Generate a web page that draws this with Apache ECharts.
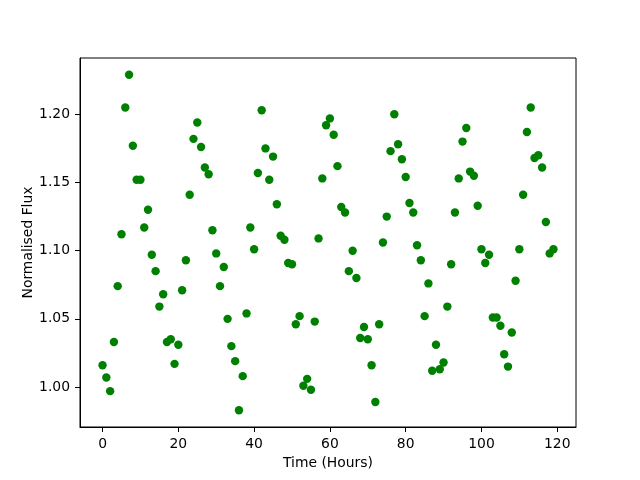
<!DOCTYPE html>
<html>
<head>
<meta charset="utf-8">
<script src="https://cdn.jsdelivr.net/npm/echarts@6/dist/echarts.min.js"></script>
<style>
  html, body { margin: 0; padding: 0; background: #fff; }
  #main { width: 640px; height: 480px; }
</style>
</head>
<body>
<div id="main"></div>
<script>
// time of each observation (hours)
const hours = [
  0, 1, 2, 3, 4, 5, 6, 7, 8, 9, 10, 11, 12, 13, 14, 15, 16, 17, 18, 19,
  20, 21, 22, 23, 24, 25, 26, 27, 28, 29, 30, 31, 32, 33, 34, 35, 36, 37, 38, 39,
  40, 41, 42, 43, 44, 45, 46, 47, 48, 49, 50, 51, 52, 53, 54, 55, 56, 57, 58, 59,
  60, 61, 62, 63, 64, 65, 66, 67, 68, 69, 70, 71, 72, 73, 74, 75, 76, 77, 78, 79,
  80, 81, 82, 83, 84, 85, 86, 87, 88, 89, 90, 91, 92, 93, 94, 95, 96, 97, 98, 99,
  100, 101, 102, 103, 104, 105, 106, 107, 108, 109, 110, 111, 112, 113, 114, 115, 116, 117, 118, 119
];

// normalised flux
const flux = [
  1.016, 1.007, 0.997, 1.033, 1.074, 1.112, 1.205, 1.229, 1.177, 1.152,
  1.152, 1.117, 1.130, 1.097, 1.085, 1.059, 1.068, 1.033, 1.035, 1.017,
  1.031, 1.071, 1.093, 1.141, 1.182, 1.194, 1.176, 1.161, 1.156, 1.115,
  1.098, 1.074, 1.088, 1.050, 1.030, 1.019, 0.983, 1.008, 1.054, 1.117,
  1.101, 1.157, 1.203, 1.175, 1.152, 1.169, 1.134, 1.111, 1.108, 1.091,
  1.090, 1.046, 1.052, 1.001, 1.006, 0.998, 1.048, 1.109, 1.153, 1.192,
  1.197, 1.185, 1.162, 1.132, 1.128, 1.085, 1.100, 1.080, 1.036, 1.044,
  1.035, 1.016, 0.989, 1.046, 1.106, 1.125, 1.173, 1.200, 1.178, 1.167,
  1.154, 1.135, 1.128, 1.104, 1.093, 1.052, 1.076, 1.012, 1.031, 1.013,
  1.018, 1.059, 1.090, 1.128, 1.153, 1.180, 1.190, 1.158, 1.155, 1.133,
  1.101, 1.091, 1.097, 1.051, 1.051, 1.045, 1.024, 1.015, 1.040, 1.078,
  1.101, 1.141, 1.187, 1.205, 1.168, 1.170, 1.161, 1.121, 1.098, 1.101
];

const xTicks = [0, 20, 40, 60, 80, 100, 120];
const yTicks = [1.00, 1.05, 1.10, 1.15, 1.20];

const font = 'DejaVu Sans';
const chart = echarts.init(document.getElementById('main'), null, { renderer: 'canvas' });

const option = {
  animation: false,
  backgroundColor: '#fff',
  textStyle: { fontFamily: font },
  grid: {
    left: 80, right: 64, top: 58, bottom: 53,
    show: true, borderColor: '#000', borderWidth: 1, backgroundColor: '#fff'
  },
  xAxis: {
    type: 'value',
    min: -5.95, max: 124.95,
    name: 'Time (Hours)',
    nameLocation: 'middle',
    nameGap: 29,
    nameMoveOverlap: false,
    nameTextStyle: { fontFamily: font, fontSize: 13.9, color: '#000' },
    splitLine: { show: false },
    axisLine: { show: true, onZero: false, lineStyle: { color: '#000', width: 1 } },
    axisTick: { show: true, length: 5, customValues: xTicks, lineStyle: { color: '#000' } },
    axisLabel: { customValues: xTicks, margin: 10, fontFamily: font, fontSize: 13.9, color: '#000' }
  },
  yAxis: {
    type: 'value',
    min: 0.9707, max: 1.2413,
    name: 'Normalised Flux',
    nameLocation: 'middle',
    nameRotate: 90,
    nameGap: 45,
    nameMoveOverlap: false,
    nameTextStyle: { fontFamily: font, fontSize: 13.9, color: '#000' },
    splitLine: { show: false },
    axisLine: { show: true, onZero: false, lineStyle: { color: '#000', width: 1 } },
    axisTick: { show: true, length: 5, customValues: yTicks, lineStyle: { color: '#000' } },
    axisLabel: {
      customValues: yTicks, margin: 10, fontFamily: font, fontSize: 13.9, color: '#000',
      formatter: v => v.toFixed(2)
    }
  },
  series: [{
    type: 'scatter',
    data: hours.map((h, i) => [h, flux[i]]),
    symbol: 'circle',
    symbolSize: 8.4,
    clip: false,
    itemStyle: { color: '#008000', opacity: 1 }
  }]
};

chart.setOption(option);
</script>
</body>
</html>
